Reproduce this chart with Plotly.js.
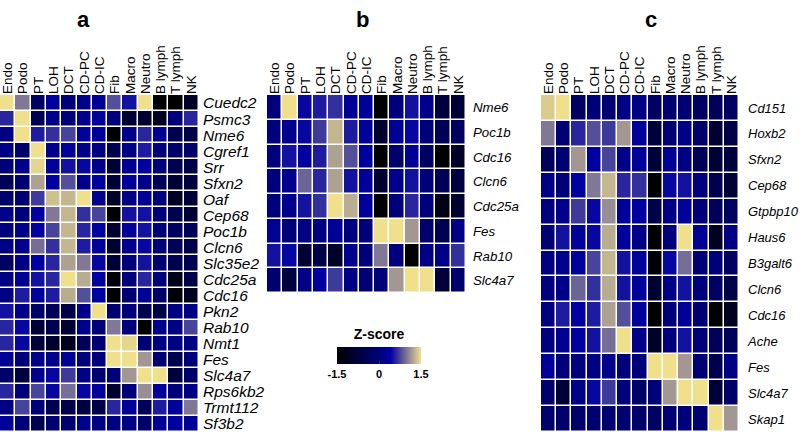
<!DOCTYPE html>
<html>
<head>
<meta charset="utf-8">
<script src="https://cdn.plot.ly/plotly-3.0.1.min.js"></script>
<style>html,body{margin:0;padding:0;background:#fff}#chart{width:800px;height:432px}</style>
</head>
<body>
<div id="chart"></div>
<script>
const cellTypes = ["Endo","Podo","PT","LOH","DCT","CD-PC","CD-IC","Fib","Macro","Neutro","B lymph","T lymph","NK"];

const genesA = ["Cuedc2","Psmc3","Nme6","Cgref1","Srr","Sfxn2","Oaf","Cep68","Poc1b","Clcn6","Slc35e2","Cdc25a","Cdc16","Pkn2","Rab10","Nmt1","Fes","Slc4a7","Rps6kb2","Trmt112","Sf3b2"];
const zA = [
  [1.5, 1.0, -0.3, 0.4, 0.0, 0.2, 0.3, 0.8, 0.5, 1.5, -1.5, -1.5, -1.0],
  [0.6, 1.5, -0.5, 0.2, 0.0, 0.2, 0.35, 0.0, -0.9, -0.9, -1.1, 0.0, 0.6],
  [0.1, 1.5, 0.55, 0.65, 0.75, 0.35, 0.35, -1.5, 0.2, 0.6, 0.3, -0.5, -0.6],
  [0.1, -0.2, 1.5, 0.2, 0.35, 0.15, 0.1, -0.5, 0.1, 0.55, 0.0, -0.2, -0.2],
  [0.0, 0.2, 1.45, 0.35, 0.5, 0.45, 0.2, -0.8, 0.25, 0.4, 0.0, -0.5, -0.6],
  [-0.4, -0.1, 1.2, 0.4, 0.8, 0.2, 0.35, -0.8, 0.3, 0.2, -0.4, -0.8, -0.7],
  [-0.2, -0.1, 0.7, 1.35, 1.3, 1.5, 0.2, -1.0, 0.1, 0.3, 0.0, -1.1, -0.8],
  [0.15, 0.0, 0.4, 1.0, 1.3, 0.65, 0.75, -1.5, 0.5, 0.5, 0.0, -0.5, -0.8],
  [0.0, 0.15, 0.4, 0.75, 1.3, 0.6, 0.4, -0.9, 0.35, 0.5, 0.0, -0.3, -0.4],
  [0.1, 0.2, 0.95, 0.65, 1.3, 0.55, 0.35, -0.9, 0.2, 0.45, 0.0, -0.4, -0.6],
  [-0.3, 0.15, 0.4, 0.6, 1.2, 1.0, 0.45, -0.8, 0.0, 0.5, -0.1, -0.5, -0.5],
  [0.1, 0.25, 0.5, 0.6, 1.5, 1.25, 0.35, -1.4, 0.0, 0.6, 0.0, -1.2, -0.6],
  [0.1, 0.55, 0.35, 0.55, 1.25, 0.8, 0.4, -1.5, -0.1, 0.3, -0.2, -1.4, -1.1],
  [0.5, 0.2, -0.2, -0.4, -0.6, 0.15, 1.5, -0.1, 0.0, -0.5, -0.6, 0.1, 0.1],
  [0.6, 0.45, -0.8, -0.5, -0.9, 0.2, 0.0, 1.0, 0.0, -1.5, 0.2, 0.1, 0.75],
  [0.6, 0.45, -0.8, -0.9, -1.1, -0.4, -0.1, 1.5, 1.45, -0.1, 0.1, 0.1, 0.1],
  [0.3, 0.0, 0.15, 0.2, 0.3, 0.0, 0.0, 1.5, 1.5, 1.15, -0.1, -0.5, 0.0],
  [-0.2, -0.7, 0.2, 0.45, 0.7, 0.1, -0.1, 0.0, 1.15, 1.5, 1.5, -0.7, -0.2],
  [0.6, 0.0, 0.75, 0.45, 0.95, 0.45, 0.35, -0.9, 0.0, 1.1, 0.35, 0.0, 0.1],
  [0.1, 0.75, 0.0, -0.5, -0.6, -0.7, -0.6, 0.6, 0.35, -0.4, 0.55, 0.35, 1.0],
  [0.35, 0.0, -0.5, -0.1, -0.1, 0.2, 0.1, 0.1, 0.1, -0.2, 0.3, 0.4, 0.3]
];

const genesB = ["Nme6","Poc1b","Cdc16","Clcn6","Cdc25a","Fes","Rab10","Slc4a7"];
const zB = [
  [0.05, 1.5, 0.45, 0.55, 0.65, 0.3, 0.35, -1.5, 0.05, 0.5, 0.2, -0.7, -0.8],
  [0.05, 0.2, 0.45, 0.7, 1.3, 0.55, 0.35, -0.9, 0.3, 0.45, 0.0, -0.4, -0.3],
  [0.05, 0.5, 0.4, 0.55, 1.2, 0.8, 0.4, -1.5, -0.2, 0.3, -0.3, -1.5, -1.0],
  [0.05, 0.2, 0.9, 0.6, 1.2, 0.5, 0.35, -0.9, 0.2, 0.5, 0.0, -0.4, -0.7],
  [0.05, 0.2, 0.5, 0.65, 1.5, 1.25, 0.35, -1.5, 0.0, 0.6, 0.0, -1.2, -0.9],
  [0.3, 0.0, 0.1, 0.1, 0.25, 0.05, 0.0, 1.5, 1.5, 1.15, -0.2, -0.5, 0.1],
  [0.5, 0.45, -0.9, -0.6, -1.0, 0.2, 0.0, 1.0, 0.05, -1.5, 0.1, 0.15, 0.65],
  [-0.1, -0.7, 0.1, 0.4, 0.7, 0.1, -0.1, 0.0, 1.15, 1.5, 1.5, -0.8, -0.2]
];

const genesC = ["Cd151","Hoxb2","Sfxn2","Cep68","Gtpbp10","Haus6","B3galt6","Clcn6","Cdc16","Ache","Fes","Slc4a7","Skap1"];
const zC = [
  [1.4, 1.5, -0.3, 0.0, -0.1, 0.15, 0.1, -0.3, -0.1, -0.1, -0.3, -0.4, -0.3],
  [1.0, -0.1, 0.6, 0.8, 0.7, 1.15, 0.35, -0.8, -0.1, 0.15, -0.2, -0.9, -0.6],
  [-0.4, -0.1, 1.15, 0.4, 0.75, 0.2, 0.35, -0.8, 0.3, 0.1, -0.4, -0.8, -0.7],
  [0.1, 0.0, 0.4, 1.0, 1.3, 0.6, 0.65, -1.5, 0.45, 0.5, 0.05, -0.5, -0.8],
  [0.05, 0.2, 0.7, 0.45, 1.1, 0.35, 0.4, -0.6, 0.1, 0.35, 0.0, -0.4, -0.3],
  [-0.1, 0.5, 0.35, 0.45, 1.25, 0.35, 0.15, -1.5, 0.05, 1.5, 0.25, -1.1, 0.1],
  [0.05, 0.2, 0.35, 0.75, 1.3, 0.5, 0.35, -1.4, 0.45, 0.95, -0.1, 0.0, -0.3],
  [0.05, 0.2, 0.9, 0.65, 1.25, 0.5, 0.35, -0.9, 0.1, 0.5, 0.05, -0.3, -0.6],
  [0.05, 0.55, 0.4, 0.55, 1.2, 0.8, 0.4, -1.5, 0.0, 0.3, -0.1, -1.5, -1.1],
  [0.05, 0.25, 0.4, 0.5, 0.95, 1.5, 0.15, -1.0, 0.05, 0.5, 0.0, -0.4, -0.4],
  [0.3, 0.0, 0.05, 0.1, 0.2, 0.0, 0.0, 1.5, 1.5, 1.15, -0.1, -0.5, 0.1],
  [-0.2, -0.8, 0.1, 0.45, 0.7, 0.0, -0.2, 0.0, 1.15, 1.5, 1.5, -0.8, -0.2],
  [-0.2, -0.2, -0.2, -0.1, -0.1, -0.1, -0.2, -0.3, -0.1, 0.0, -0.1, 1.5, 1.15]
];

const colorTicks = [-1.5, 0, 1.5];
const panelLabels = ["a","b","c"];

const W = 800, H = 432;
const FONT = "Liberation Sans, Arial, sans-serif";
const cscale = [[0, "#000000"], [0.5, "#00007A"], [0.64, "#0000A2"], [1, "#F0E08C"]];
const italic = g => g.map(s => "<i>" + s + "</i>");

function hm(z, genes, xa, ya, showScale) {
  const t = {
    type: "heatmap", z: z, x: cellTypes, y: genes,
    xaxis: xa, yaxis: ya,
    zmin: -1.5, zmax: 1.5, colorscale: cscale,
    xgap: 1.5, ygap: 1.5, showscale: showScale, hoverinfo: "skip"
  };
  if (showScale) {
    t.colorbar = {
      orientation: "h", x: 379 / W, xanchor: "center", xref: "paper",
      y: 1 - 331 / H, yanchor: "top", yref: "paper",
      len: 84 / W, lenmode: "fraction", thickness: 17, thicknessmode: "pixels",
      outlinewidth: 0, xpad: 0, ypad: 0,
      tickvals: colorTicks, ticktext: colorTicks.map(String),
      ticks: "inside", ticklen: 3, tickcolor: "#333",
      tickfont: {family: FONT, size: 11, color: "#000", weight: "bold"},
      title: {text: "<b>Z-score</b>", side: "top", font: {family: FONT, size: 14, color: "#000"}}
    };
  }
  return t;
}

const data = [
  hm(zA, genesA, "x", "y", true),
  hm(zB, genesB, "x2", "y2", false),
  hm(zC, genesC, "x3", "y3", false)
];

const tfont = {family: FONT, size: 13.5, color: "#000"};
function xax(d, anchor) {
  return {domain: d, anchor: anchor, side: "top", tickangle: -90, tickfont: tfont,
    tickmode: "array", tickvals: cellTypes, ticktext: cellTypes,
    showgrid: false, zeroline: false, showline: false, ticks: "", automargin: false, fixedrange: true, type: "category"};
}
function yax(d, anchor, genes, standoff, fsize) {
  return {domain: d, anchor: anchor, side: "right", autorange: "reversed",
    tickfont: {family: FONT, size: fsize, color: "#000"},
    tickmode: "array", tickvals: genes, ticktext: italic(genes), ticklabelstandoff: standoff,
    showgrid: false, zeroline: false, showline: false, ticks: "", automargin: false, fixedrange: true, type: "category"};
}
const topFrac = 1 - 95 / H;
const layout = {
  width: W, height: H,
  margin: {l: 0, r: 0, t: 0, b: 0},
  paper_bgcolor: "#fff", plot_bgcolor: "#fff",
  showlegend: false,
  xaxis: xax([0, 199 / W], "y"),
  yaxis: yax([0, topFrac], "x", genesA, 3, 15.5),
  xaxis2: xax([267 / W, 466 / W], "y2"),
  yaxis2: yax([1 - 293 / H, topFrac], "x2", genesB, 6, 13.3),
  xaxis3: xax([541 / W, 739 / W], "y3"),
  yaxis3: yax([0, topFrac], "x3", genesC, 8, 13),
  annotations: [
    {text: "<b>" + panelLabels[0] + "</b>", x: 83 / W, y: 1 - 20 / H},
    {text: "<b>" + panelLabels[1] + "</b>", x: 362 / W, y: 1 - 20 / H},
    {text: "<b>" + panelLabels[2] + "</b>", x: 651 / W, y: 1 - 20 / H}
  ].map(a => Object.assign(a, {xref: "paper", yref: "paper", showarrow: false, xanchor: "center", yanchor: "middle",
    font: {family: FONT, size: 22, color: "#000"}}))
};

Plotly.newPlot("chart", data, layout, {displayModeBar: false, staticPlot: true});
</script>
</body>
</html>
